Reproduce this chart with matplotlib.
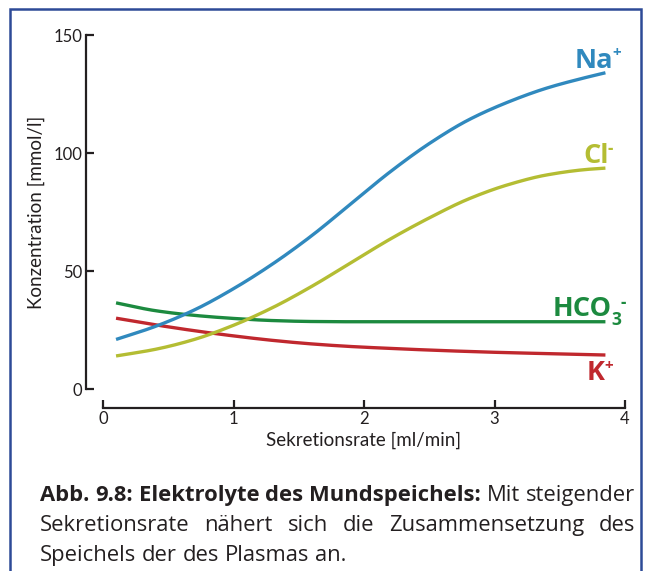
import matplotlib
matplotlib.use('Agg')
import numpy as np
import matplotlib.pyplot as plt
from matplotlib.patches import Rectangle

# --- Daten ---
rate = [0.1, 0.4, 0.7, 1.0, 1.3, 1.6, 1.9, 2.2, 2.5, 2.8, 3.1, 3.4, 3.7, 3.85]
na = [21, 26.5, 33.5, 42.5, 53, 65, 78.5, 92, 104, 114, 121.5, 127.5, 132, 134]
cl = [14, 16.8, 21, 27, 34.5, 43.5, 53.5, 63.5, 72.5, 80.5, 86.5, 90.7, 93, 93.6]
hco3 = [36.5, 33.2, 31.2, 29.9, 29.0, 28.6, 28.5, 28.5, 28.5, 28.5, 28.5, 28.5, 28.5, 28.5]
k = [30, 27.2, 24.7, 22.5, 20.6, 19.1, 18.0, 17.2, 16.5, 15.9, 15.4, 15.0, 14.6, 14.4]

x_ticks = [0, 1, 2, 3, 4]
y_ticks = [0, 50, 100, 150]

C_NA = '#3089be'
C_CL = '#b4bd33'
C_HCO3 = '#1c8a3f'
C_K = '#c0282e'
C_BORDER = '#2d4a97'
C_AXIS = '#231f20'

W, H = 648, 571
fig = plt.figure(figsize=(W / 100, H / 100), dpi=100)

# Rahmen (unten offen, läuft aus dem Bild)
fig.patches.append(Rectangle((10 / W, -0.1), 631 / W, 1.1 - 9 / H, transform=fig.transFigure,
                             fill=False, edgecolor=C_BORDER, linewidth=1.8))

ax = fig.add_axes([103 / W, 1 - 389 / H, 522 / W, 354 / H])
ax.set_xlim(0, 4)
ax.set_ylim(0, 150)


def smooth(xs, ys, n=300):
    # monotone kubische Interpolation (PCHIP) nur zum Glätten der Linie
    xs = np.asarray(xs, float)
    ys = np.asarray(ys, float)
    h = np.diff(xs)
    d = np.diff(ys) / h
    m = np.zeros_like(ys)
    m[0], m[-1] = d[0], d[-1]
    for i in range(1, len(xs) - 1):
        if d[i - 1] * d[i] <= 0:
            m[i] = 0
        else:
            w1 = 2 * h[i] + h[i - 1]
            w2 = h[i] + 2 * h[i - 1]
            m[i] = (w1 + w2) / (w1 / d[i - 1] + w2 / d[i])
    xx = np.linspace(xs[0], xs[-1], n)
    idx = np.clip(np.searchsorted(xs, xx) - 1, 0, len(xs) - 2)
    t = (xx - xs[idx]) / h[idx]
    h00 = 2 * t**3 - 3 * t**2 + 1
    h10 = t**3 - 2 * t**2 + t
    h01 = -2 * t**3 + 3 * t**2
    h11 = t**3 - t**2
    yy = h00 * ys[idx] + h10 * h[idx] * m[idx] + h01 * ys[idx + 1] + h11 * h[idx] * m[idx + 1]
    return xx, yy


for ys, c in [(k, C_K), (hco3, C_HCO3), (cl, C_CL), (na, C_NA)]:
    xx, yy = smooth(rate, ys)
    ax.plot(xx, yy, color=c, linewidth=2.4, solid_capstyle='butt')

for sp in ['top', 'right']:
    ax.spines[sp].set_visible(False)
ax.spines['left'].set_position(('outward', 12))
ax.spines['bottom'].set_position(('outward', 14))
ax.spines['left'].set_bounds(0, 150)
ax.spines['bottom'].set_bounds(0, 4)
for sp in ['left', 'bottom']:
    ax.spines[sp].set_linewidth(1.6)
    ax.spines[sp].set_color(C_AXIS)

ax.set_xticks(x_ticks)
ax.set_yticks(y_ticks)
ax.tick_params(direction='in', length=6, width=1.6, color=C_AXIS,
               labelsize=12, labelcolor=C_AXIS, pad=3)
ax.tick_params(axis='x', pad=2)
for lab in ax.get_xticklabels() + ax.get_yticklabels():
    lab.set_fontfamily('Lato')

ax.set_xlabel('Sekretionsrate [ml/min]', fontsize=13.5, family='Lato',
              color=C_AXIS, labelpad=3)
ax.set_ylabel('Konzentration [mmol/l]', fontsize=13.5, family='Lato',
              color=C_AXIS, labelpad=6)

# Ionen-Beschriftungen
LAB_FONT = 'Open Sans'


def ion_label(x, y, base, color, sup=None, sup_dx=6, sup_dy=15, sub=None):
    t = ax.text(x, y, base, color=color, fontsize=19.5, family=LAB_FONT,
                fontweight='bold', ha='left', va='baseline')
    anchor = t
    if sub:
        anchor = ax.annotate(sub, xy=(1, y), xycoords=(t, 'data'), xytext=(-1, -9),
                             textcoords='offset pixels', ha='left', va='baseline',
                             fontsize=12.5, family=LAB_FONT, fontweight='bold', color=color)
    if sup:
        ax.annotate(sup, xy=(1, y), xycoords=(anchor, 'data'), xytext=(sup_dx, sup_dy),
                    textcoords='offset pixels', ha='center', va='center',
                    fontsize=11 if sup == '+' else 12, family=LAB_FONT,
                    fontweight='bold', color=color)


ion_label(3.617, 136.0, 'Na', C_NA, sup='+', sup_dx=3, sup_dy=15)
ion_label(3.678, 95.8, 'Cl', C_CL, sup='-', sup_dx=2, sup_dy=14)
ion_label(3.448, 30.9, 'HCO', C_HCO3, sub='3', sup='-', sup_dx=2, sup_dy=13)
ion_label(3.705, 3.8, 'K', C_K, sup='+', sup_dx=4, sup_dy=14)

# Bildunterschrift (Blocksatz)
cap_left, cap_right = 40, 635
cap_family = 'Open Sans'
renderer = fig.canvas.get_renderer()


def text_width(s, weight, size):
    t = fig.text(0, 0, s, fontsize=size, family=cap_family, fontweight=weight)
    w = t.get_window_extent(renderer).width
    t.remove()
    return w


B, N = 'bold', 'normal'
line1 = [('Abb.', B), ('9.8:', B), ('Elektrolyte', B), ('des', B), ('Mundspeichels:', B),
         ('Mit', N), ('steigender', N)]
line2 = [(w, N) for w in 'Sekretionsrate nähert sich die Zusammensetzung des'.split()]
line3 = [(w, N) for w in 'Speichels der des Plasmas an.'.split()]

# Schriftgröße so wählen, dass Zeile 1 mit normalen Abständen die Breite füllt
cap_size = 15.0
for _ in range(3):
    sp = text_width('a a', N, cap_size) - text_width('aa', N, cap_size)
    nat = sum(text_width(w, wt, cap_size) for w, wt in line1) + sp * (len(line1) - 1)
    cap_size *= (cap_right - cap_left) / nat


def put_line(words, y_px, justify=True):
    widths = [text_width(w, wt, cap_size) for w, wt in words]
    space = text_width('a a', N, cap_size) - text_width('aa', N, cap_size)
    gap = (cap_right - cap_left - sum(widths)) / (len(words) - 1) if justify else space
    x = cap_left
    for (w, wt), ww in zip(words, widths):
        fig.text(x / W, 1 - y_px / H, w, fontsize=cap_size, family=cap_family,
                 fontweight=wt, color=C_AXIS, va='baseline', ha='left')
        x += ww + gap


put_line(line1, 501)
put_line(line2, 531)
put_line(line3, 561, justify=False)

fig.savefig('out.png', dpi=100)
